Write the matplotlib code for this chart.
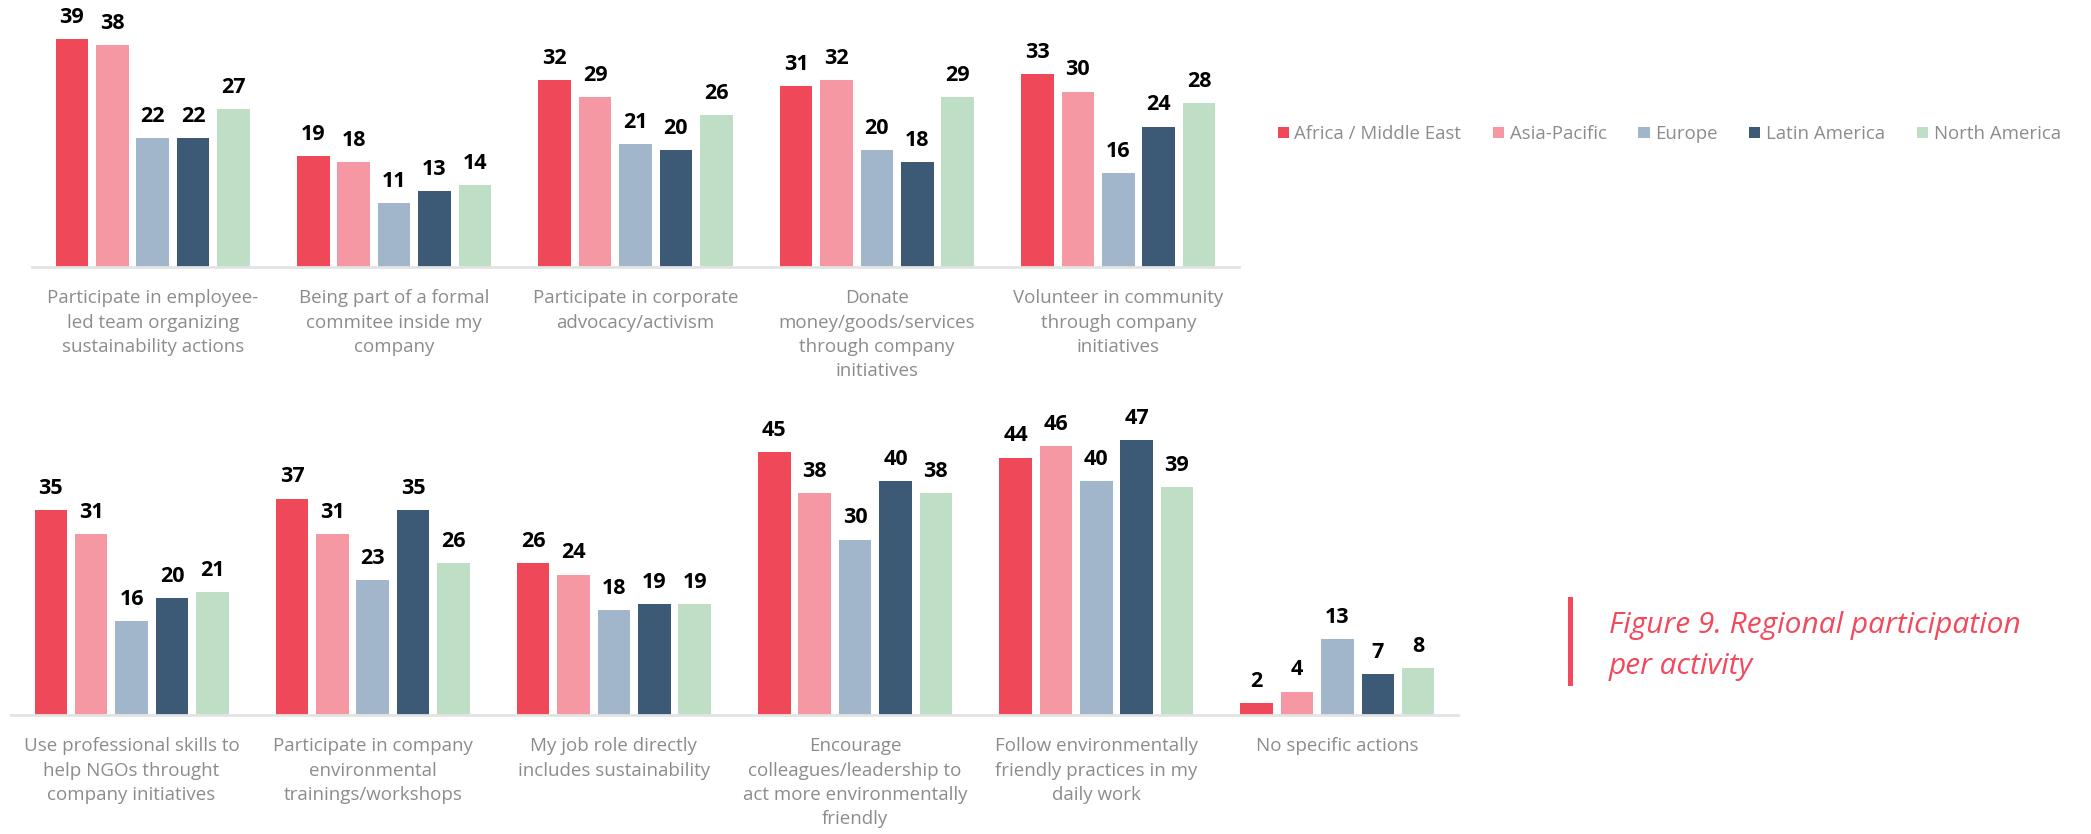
import matplotlib
matplotlib.use("Agg")
import matplotlib.pyplot as plt
from matplotlib.patches import Patch
from matplotlib.lines import Line2D
import numpy as np

plt.rcParams['font.family'] = ['Open Sans', 'DejaVu Sans']

regions = ["Africa / Middle East", "Asia-Pacific", "Europe", "Latin America", "North America"]
colors = ["#EF4859", "#F598A3", "#A1B6CB", "#3C5A75", "#BEDFC5"]

top_labels = [
    "Participate in employee-\nled team organizing\nsustainability actions",
    "Being part of a formal\ncommitee inside my\ncompany",
    "Participate in corporate\nadvocacy/activism",
    "Donate\nmoney/goods/services\nthrough company\ninitiatives",
    "Volunteer in community\nthrough company\ninitiatives",
]
# one list per region, in the order of top_labels
top_africa = [39, 19, 32, 31, 33]
top_asia = [38, 18, 29, 32, 30]
top_europe = [22, 11, 21, 20, 16]
top_latam = [22, 13, 20, 18, 24]
top_namerica = [27, 14, 26, 29, 28]

bottom_labels = [
    "Use professional skills to\nhelp NGOs throught\ncompany initiatives",
    "Participate in company\nenvironmental\ntrainings/workshops",
    "My job role directly\nincludes sustainability",
    "Encourage\ncolleagues/leadership to\nact more environmentally\nfriendly",
    "Follow environmentally\nfriendly practices in my\ndaily work",
    "No specific actions",
]
bottom_africa = [35, 37, 26, 45, 44, 2]
bottom_asia = [31, 31, 24, 38, 46, 4]
bottom_europe = [16, 23, 18, 30, 40, 13]
bottom_latam = [20, 35, 19, 40, 47, 7]
bottom_namerica = [21, 26, 19, 38, 39, 8]

W, H = 2091, 834
PX_PER_UNIT = 5.85
fig = plt.figure(figsize=(W / 100, H / 100), dpi=100)


def panel(x0, x1, base_y, ymax, labels, series):
    ax = fig.add_axes([x0 / W, (H - base_y) / H, (x1 - x0) / W, ymax * PX_PER_UNIT / H])
    n = len(labels)
    x = np.arange(n)
    pitch, width = 0.1674, 0.135
    for j, (vals, c) in enumerate(zip(series, colors)):
        pos = x + (j - 2) * pitch
        ax.bar(pos, vals, width=width, color=c, zorder=2)
        for p, v in zip(pos, vals):
            ax.annotate(str(v), (p, v), xytext=(0, 8), textcoords="offset points",
                        ha="center", va="bottom", fontsize=15.5, fontweight="bold", color="black")
    ax.set_xlim(-0.5, n - 0.5)
    ax.set_ylim(0, ymax)
    ax.set_yticks([])
    ax.set_xticks(x)
    ax.set_xticklabels(labels, fontsize=13.5, color="#8c8c8c", linespacing=1.45)
    ax.tick_params(axis="x", length=0, pad=16)
    for s in ["top", "left", "right"]:
        ax.spines[s].set_visible(False)
    ax.spines["bottom"].set_color("#e3e3e3")
    ax.spines["bottom"].set_linewidth(2)
    ax.patch.set_alpha(0)
    return ax


panel(32, 1239, 267, 45, top_labels,
      [top_africa, top_asia, top_europe, top_latam, top_namerica])
panel(11, 1458, 715, 50, bottom_labels,
      [bottom_africa, bottom_asia, bottom_europe, bottom_latam, bottom_namerica])

handles = [Patch(facecolor=c, edgecolor="none") for c in colors]
leg = fig.legend(handles, regions, loc="center left", bbox_to_anchor=(1261 / W, 1 - 134 / H),
                 ncol=5, frameon=False, fontsize=13.4, handlelength=0.6, handleheight=0.6,
                 handletextpad=0.3, columnspacing=1.7)
for t in leg.get_texts():
    t.set_color("#8c8c8c")

# caption with accent bar
fig.add_artist(Line2D([1570 / W, 1570 / W], [1 - 599 / H, 1 - 683 / H],
                      color="#F2495C", linewidth=3.6))
fig.text(1609 / W, 1 - 633 / H, "Figure 9. Regional participation",
         ha="left", va="baseline", fontsize=21.5, style="italic", color="#F2495C")
fig.text(1609 / W, 1 - 674 / H, "per activity",
         ha="left", va="baseline", fontsize=21.5, style="italic", color="#F2495C")

fig.savefig("out.png", dpi=100)
